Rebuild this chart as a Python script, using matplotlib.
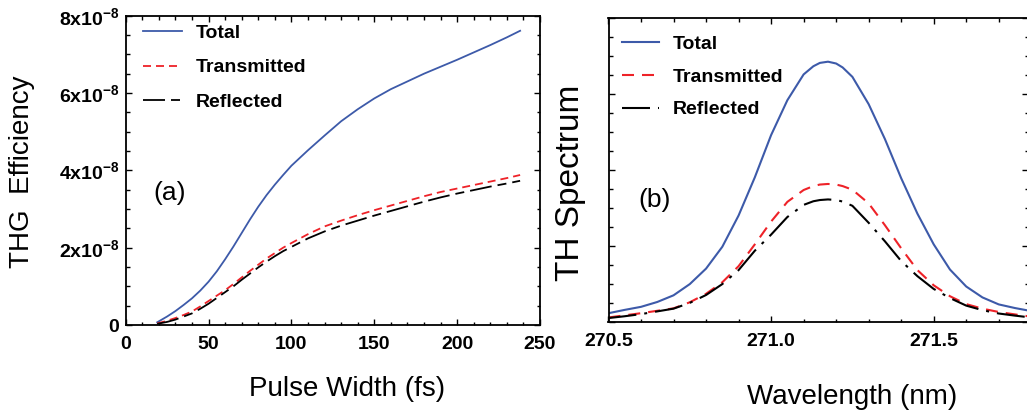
import matplotlib
matplotlib.use('Agg')
import matplotlib.pyplot as plt
from matplotlib.ticker import MultipleLocator, FuncFormatter

plt.rcParams['font.family'] = ['Liberation Sans', 'DejaVu Sans']
plt.rcParams['mathtext.fontset'] = 'custom'
plt.rcParams['mathtext.rm'] = 'Liberation Sans'
plt.rcParams['mathtext.bf'] = 'Liberation Sans:bold'
plt.rcParams['lines.scale_dashes'] = False

# (a) efficiency vs pulse width, values in units of 1e-8
pulse_fs = [19, 25, 30, 35, 40, 45, 50, 55, 60, 65, 70, 75, 80, 85, 90, 95, 100, 110, 120,
            130, 140, 150, 160, 170, 180, 190, 200, 210, 220, 230, 238]
eff_total = [0.07, 0.22, 0.36, 0.52, 0.69, 0.89, 1.12, 1.39, 1.7, 2.03, 2.38, 2.73, 3.06, 3.36, 3.63, 3.88, 4.12, 4.52, 4.9,
             5.27, 5.58, 5.86, 6.1, 6.3, 6.5, 6.68, 6.86, 7.05, 7.24, 7.44, 7.61]
eff_trans = [0.04, 0.11, 0.18, 0.26, 0.35, 0.48, 0.62, 0.76, 0.9, 1.06, 1.23, 1.4, 1.56, 1.72, 1.86, 2.0, 2.12, 2.35, 2.55,
             2.7, 2.84, 2.97, 3.09, 3.21, 3.33, 3.44, 3.53, 3.62, 3.71, 3.8, 3.88]
eff_refl = [0.03, 0.08, 0.14, 0.22, 0.3, 0.42, 0.55, 0.7, 0.85, 1.0, 1.17, 1.33, 1.49, 1.64, 1.78, 1.91, 2.02, 2.24, 2.42,
            2.57, 2.7, 2.83, 2.95, 3.07, 3.19, 3.3, 3.4, 3.49, 3.58, 3.66, 3.73]

# (b) TH spectrum, arbitrary units
wl_nm = [270.50, 270.55, 270.60, 270.65, 270.70, 270.75, 270.80, 270.85, 270.90, 270.95,
         271.00, 271.05, 271.10, 271.13, 271.15, 271.175, 271.20, 271.22, 271.25, 271.30, 271.35, 271.40,
         271.45, 271.50, 271.55, 271.60, 271.65, 271.70, 271.75, 271.79]
spec_total = [0.028, 0.039, 0.049, 0.065, 0.087, 0.124, 0.175, 0.247, 0.35, 0.476,
              0.615, 0.73, 0.815, 0.842, 0.853, 0.857, 0.851, 0.838, 0.807, 0.717, 0.602, 0.473,
              0.356, 0.255, 0.172, 0.116, 0.08, 0.057, 0.045, 0.037]
spec_trans = [0.014, 0.021, 0.028, 0.036, 0.044, 0.064, 0.092, 0.13, 0.183, 0.255,
              0.33, 0.395, 0.434, 0.447, 0.452, 0.454, 0.452, 0.447, 0.435, 0.39, 0.318, 0.242,
              0.17, 0.12, 0.084, 0.058, 0.043, 0.032, 0.024, 0.018]
spec_refl = [0.012, 0.018, 0.025, 0.034, 0.043, 0.062, 0.088, 0.124, 0.17, 0.234,
             0.287, 0.345, 0.385, 0.397, 0.401, 0.403, 0.401, 0.396, 0.382, 0.326, 0.265, 0.2,
             0.15, 0.108, 0.078, 0.053, 0.038, 0.027, 0.02, 0.015]

blue = '#3d5aa9'
red = '#ee2228'
px = 0.72  # pixels -> points at dpi 100

fig = plt.figure(figsize=(10.27, 4.16), dpi=100)
axa = fig.add_axes([125.7/1027, 1-325/416, (540-125.7)/1027, (325-15.7)/416])
axb = fig.add_axes([608.5/1027, 1-321.7/416, (1028-608.5)/1027, (321.7-18.3)/416])

def style(ax):
    ax.tick_params(which='both', direction='in', top=True, right=True, width=1.0)
    ax.tick_params(which='major', length=6*px)
    ax.tick_params(which='minor', length=3.5*px)
    for s in ax.spines.values():
        s.set_linewidth(1.3)
    for lab in ax.get_xticklabels() + ax.get_yticklabels():
        lab.set_fontweight('bold')
        lab.set_fontsize(14)

legend_font = {'weight': 'bold', 'size': 14}

# ---- panel (a)
axa.plot(pulse_fs, eff_total, color=blue, lw=1.3, label='Total')
axa.plot(pulse_fs, eff_trans, color=red, lw=1.3, dashes=(8*px, 5*px), label='Transmitted')
axa.plot(pulse_fs, eff_refl, color='black', lw=1.3, dashes=(22*px, 6*px, 9*px, 6*px), label='Reflected')
axa.set_xlim(0, 250)
axa.set_ylim(0, 8)
axa.xaxis.set_major_locator(MultipleLocator(50))
axa.xaxis.set_minor_locator(MultipleLocator(10))
axa.yaxis.set_major_locator(MultipleLocator(2))
axa.yaxis.set_minor_locator(MultipleLocator(0.5))

def sci(v, pos):
    if abs(v) < 1e-9:
        return r'$\mathbf{0}$'
    return r'$\mathbf{%dx10^{-8}}$' % round(v)

axa.yaxis.set_major_formatter(FuncFormatter(sci))
style(axa)
axa.tick_params(axis='x', pad=8)
axa.tick_params(axis='y', pad=4)
axa.text(26.7, 3.42, '(a)', fontsize=19, ha='center', va='center')
axa.legend(loc='upper left', bbox_to_anchor=(0.0225, 0.997), frameon=False, prop=legend_font,
           handlelength=2.0, handletextpad=0.72, labelspacing=0.86,
           borderaxespad=0, borderpad=0.4)

# ---- panel (b)
axb.plot(wl_nm, spec_total, color=blue, lw=1.5, label='Total')
axb.plot(wl_nm, spec_trans, color=red, lw=1.5, dashes=(12*px, 8*px), label='Transmitted')
axb.plot(wl_nm, spec_refl, color='black', lw=1.5, dashes=(28*px, 8*px, 3*px, 8*px), label='Reflected')
axb.set_xlim(270.5, 271.79)
axb.set_ylim(0, 1)
axb.xaxis.set_major_locator(MultipleLocator(0.5))
axb.xaxis.set_minor_locator(MultipleLocator(0.1))
axb.yaxis.set_major_locator(MultipleLocator(0.25))
axb.yaxis.set_minor_locator(MultipleLocator(0.0625))
axb.xaxis.set_major_formatter(FuncFormatter(lambda v, p: '%.1f' % v))
style(axb)
axb.tick_params(axis='y', labelleft=False)
axb.tick_params(axis='x', pad=8)
axb.text(270.641, 0.40, '(b)', fontsize=19, ha='center', va='center')
axb.legend(loc='upper left', bbox_to_anchor=(0.013, 0.970), frameon=False, prop=legend_font,
           handlelength=1.9, handletextpad=0.72, labelspacing=0.78,
           borderaxespad=0, borderpad=0.4)

# axis labels
fig.text(347.5/1027, 1-389/416, 'Pulse Width (fs)', fontsize=20, ha='center', va='center')
fig.text(22/1027, 1-172/416, 'THG  Efficiency', fontsize=20, rotation=90, ha='center', va='center')
fig.text(852/1027, 1-397/416, 'Wavelength (nm)', fontsize=20, ha='center', va='center')
fig.text(571/1027, 1-183/416, 'TH Spectrum', fontsize=24, rotation=90, ha='center', va='center')

fig.savefig('out.png', dpi=100)
